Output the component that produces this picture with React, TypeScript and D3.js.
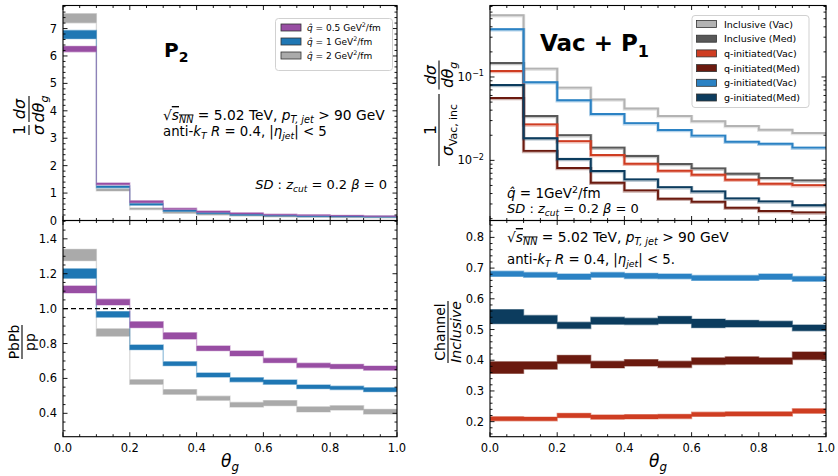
import React from "react";
import * as d3 from "d3";

const FONT = "DejaVu Sans, sans-serif";

// theta_g bin edges (10 bins of 0.1)
const binEdges = [0, 0.1, 0.2, 0.3, 0.4, 0.5, 0.6, 0.7, 0.8, 0.9, 1.0];

// P2 panel: normalised distributions, bands (lo/hi) for each qhat
const qhatValues = ["0.5", "1", "2"];
const qhatColors = ["#984ea3", "#1f77b4", "#aaaaaa"];
const distQ05Lo = [6.15, 1.30, 0.65, 0.40, 0.30, 0.24, 0.20, 0.18, 0.16, 0.15];
const distQ05Hi = [6.35, 1.37, 0.72, 0.45, 0.35, 0.28, 0.23, 0.21, 0.19, 0.17];
const distQ1Lo = [6.63, 1.19, 0.56, 0.33, 0.25, 0.19, 0.16, 0.14, 0.13, 0.12];
const distQ1Hi = [6.93, 1.26, 0.62, 0.38, 0.29, 0.23, 0.19, 0.17, 0.16, 0.15];
const distQ2Lo = [7.21, 1.08, 0.40, 0.26, 0.20, 0.16, 0.13, 0.12, 0.11, 0.10];
const distQ2Hi = [7.54, 1.15, 0.46, 0.31, 0.24, 0.19, 0.16, 0.14, 0.13, 0.12];

// PbPb / pp ratios
const ratioQ05Lo = [1.09, 1.021, 0.891, 0.826, 0.759, 0.729, 0.690, 0.662, 0.656, 0.647];
const ratioQ05Hi = [1.13, 1.054, 0.925, 0.862, 0.786, 0.757, 0.716, 0.687, 0.681, 0.671];
const ratioQ1Lo = [1.174, 0.951, 0.765, 0.673, 0.608, 0.581, 0.566, 0.541, 0.536, 0.524];
const ratioQ1Hi = [1.228, 0.983, 0.792, 0.696, 0.631, 0.604, 0.591, 0.563, 0.555, 0.547];
const ratioQ2Lo = [1.275, 0.842, 0.566, 0.509, 0.475, 0.436, 0.444, 0.408, 0.419, 0.396];
const ratioQ2Hi = [1.34, 0.884, 0.593, 0.536, 0.498, 0.462, 0.473, 0.437, 0.444, 0.423];

// Vac + P1 panel (log scale)
const channelNames = ["Inclusive (Vac)", "Inclusive (Med)", "q-initiated(Vac)", "q-initiated(Med)", "g-initiated(Vac)", "g-initiated(Med)"];
const channelColors = ["#b3b3b3", "#585858", "#cf3d22", "#6b1a0f", "#2b82c4", "#0c3c5e"];
const inclVac = [0.55, 0.126, 0.0746, 0.0536, 0.0418, 0.034, 0.0294, 0.0258, 0.0233, 0.0213];
const inclMed = [0.147, 0.034, 0.0201, 0.0142, 0.0113, 0.00904, 0.00802, 0.00692, 0.00614, 0.00575];
const qVac = [0.118, 0.027, 0.017, 0.0116, 0.0091, 0.0075, 0.00673, 0.00586, 0.00525, 0.00505];
const qMed = [0.056, 0.013, 0.0081, 0.0054, 0.00437, 0.00347, 0.00319, 0.0027, 0.00247, 0.00238];
const gVac = [0.374, 0.0863, 0.0525, 0.036, 0.028, 0.0231, 0.0198, 0.0167, 0.0158, 0.0142];
const gMed = [0.080, 0.0184, 0.0104, 0.00745, 0.00591, 0.00478, 0.00425, 0.0035, 0.00322, 0.0029];

// Channel / Inclusive fractions
const fracGVacLo = [0.673, 0.670, 0.663, 0.670, 0.666, 0.665, 0.660, 0.660, 0.663, 0.657];
const fracGVacHi = [0.690, 0.686, 0.681, 0.686, 0.683, 0.681, 0.676, 0.676, 0.681, 0.673];
const fracGMedLo = [0.519, 0.519, 0.503, 0.517, 0.516, 0.519, 0.506, 0.508, 0.508, 0.496];
const fracGMedHi = [0.565, 0.546, 0.524, 0.540, 0.537, 0.543, 0.534, 0.530, 0.527, 0.515];
const fracQMedLo = [0.357, 0.371, 0.389, 0.375, 0.381, 0.376, 0.386, 0.387, 0.387, 0.402];
const fracQMedHi = [0.395, 0.395, 0.416, 0.397, 0.402, 0.397, 0.408, 0.411, 0.408, 0.427];
const fracQVacLo = [0.203, 0.203, 0.213, 0.208, 0.209, 0.210, 0.217, 0.218, 0.218, 0.227];
const fracQVacHi = [0.216, 0.215, 0.227, 0.222, 0.223, 0.224, 0.231, 0.232, 0.232, 0.242];

// ticks
const xTickValues = [0, 0.2, 0.4, 0.6, 0.8, 1.0];
const xTickLabels = ["0.0", "0.2", "0.4", "0.6", "0.8", "1.0"];
const distTickValues = [0, 1, 2, 3, 4, 5, 6, 7];
const ratioTickValues = [0.4, 0.6, 0.8, 1.0, 1.2, 1.4];
const ratioTickLabels = ["0.4", "0.6", "0.8", "1.0", "1.2", "1.4"];
const logTickValues = [0.01, 0.1];
const logTickExps = ["−2", "−1"];
const fracTickValues = [0.2, 0.3, 0.4, 0.5, 0.6, 0.7, 0.8];
const fracTickLabels = ["0.2", "0.3", "0.4", "0.5", "0.6", "0.7", "0.8"];

type Seg = { t: string; it?: boolean; sub?: boolean; sup?: boolean; ov?: boolean };

function MText({ x, y, size, segs, anchor = "start", weight }: { x: number; y: number; size: number; segs: Seg[]; anchor?: string; weight?: string }) {
  let cur = 0;
  return (
    <text x={x} y={y} fontSize={size} fontFamily={FONT} textAnchor={anchor} fontWeight={weight} fill="#000">
      {segs.map((s, i) => {
        const target = s.sub ? size * 0.25 : s.sup ? -size * 0.4 : 0;
        const dy = target - cur;
        cur = target;
        return (
          <tspan key={i} dy={dy} fontSize={s.sub || s.sup ? size * 0.7 : size} fontStyle={s.it ? "italic" : "normal"} style={s.ov ? { textDecoration: "overline" } : undefined}>
            {s.t}
          </tspan>
        );
      })}
    </text>
  );
}

function Frac({ cx, w, num, den, size }: { cx: number; w: number; num: Seg[]; den: Seg[]; size: number }) {
  return (
    <g>
      <MText x={cx} y={-size * 0.22} size={size} segs={num} anchor="middle" />
      <line x1={cx - w / 2} x2={cx + w / 2} y1={0} y2={0} stroke="#000" strokeWidth={1.1} />
      <MText x={cx} y={size * 0.92} size={size} segs={den} anchor="middle" />
    </g>
  );
}

function minorTicks(lo: number, hi: number, step: number, majors: number[]) {
  return d3.range(lo, hi + step / 2, step).filter((v) => !majors.some((m) => Math.abs(m - v) < 1e-9));
}

function Frame({ x, y, yMajor, yMinor, clipId }: { x: any; y: any; yMajor: number[]; yMinor: number[]; clipId: string }) {
  const [x0, x1] = x.range();
  const [yb, yt] = y.range();
  const xMinor = minorTicks(0, 1, 0.05, xTickValues);
  const maj = 4.5, mnr = 2.5;
  const segs: JSX.Element[] = [];
  xTickValues.forEach((v, i) => {
    segs.push(<line key={"xb" + i} x1={x(v)} x2={x(v)} y1={yb} y2={yb - maj} />);
    segs.push(<line key={"xt" + i} x1={x(v)} x2={x(v)} y1={yt} y2={yt + maj} />);
  });
  xMinor.forEach((v, i) => {
    segs.push(<line key={"xbm" + i} x1={x(v)} x2={x(v)} y1={yb} y2={yb - mnr} />);
    segs.push(<line key={"xtm" + i} x1={x(v)} x2={x(v)} y1={yt} y2={yt + mnr} />);
  });
  yMajor.forEach((v, i) => {
    segs.push(<line key={"yl" + i} x1={x0} x2={x0 + maj} y1={y(v)} y2={y(v)} />);
    segs.push(<line key={"yr" + i} x1={x1} x2={x1 - maj} y1={y(v)} y2={y(v)} />);
  });
  yMinor.forEach((v, i) => {
    segs.push(<line key={"ylm" + i} x1={x0} x2={x0 + mnr} y1={y(v)} y2={y(v)} />);
    segs.push(<line key={"yrm" + i} x1={x1} x2={x1 - mnr} y1={y(v)} y2={y(v)} />);
  });
  return (
    <g>
      <clipPath id={clipId}>
        <rect x={x0} y={yt} width={x1 - x0} height={yb - yt} />
      </clipPath>
      <g stroke="#000" strokeWidth={0.9}>{segs}</g>
      <rect x={x0} y={yt} width={x1 - x0} height={yb - yt} fill="none" stroke="#000" strokeWidth={1.1} />
    </g>
  );
}

const ext = (a: number[]) => [...a, a[a.length - 1]];

function Band({ x, y, lo, hi, color, clipId }: { x: any; y: any; lo: number[]; hi: number[]; color: string; clipId: string }) {
  const l = ext(lo), h = ext(hi);
  const area = d3
    .area<number>()
    .x((d) => x(d))
    .y0((_, i) => y(l[i]))
    .y1((_, i) => y(h[i]))
    .curve(d3.curveStepAfter);
  return <path d={area(binEdges) || ""} fill={color} stroke={color} strokeOpacity={0.45} strokeWidth={1.3} clipPath={`url(#${clipId})`} />;
}

function StepLine({ x, y, vals, color, clipId }: { x: any; y: any; vals: number[]; color: string; clipId: string }) {
  const v = ext(vals);
  const line = d3
    .line<number>()
    .x((d) => x(d))
    .y((_, i) => y(v[i]))
    .curve(d3.curveStepAfter);
  const d = line(binEdges) || "";
  return (
    <g clipPath={`url(#${clipId})`} fill="none">
      <path d={d} stroke={color} strokeOpacity={0.35} strokeWidth={3.4} transform="translate(0,0.6)" />
      <path d={d} stroke={color} strokeWidth={1.9} />
    </g>
  );
}

const sqrtLine: Seg[] = [
  { t: "√" },
  { t: "s", it: true, ov: true },
  { t: "NN", it: true, sub: true, ov: true },
  { t: " = 5.02 TeV, " },
  { t: "p", it: true },
  { t: "T, jet", it: true, sub: true },
  { t: " > 90 GeV" },
];

const antiLine = (tail: string): Seg[] => [
  { t: "anti-" },
  { t: "k", it: true },
  { t: "T", it: true, sub: true },
  { t: " R", it: true },
  { t: " = 0.4, |" },
  { t: "η", it: true },
  { t: "jet", it: true, sub: true },
  { t: "| < " + tail },
];

const sdLine: Seg[] = [
  { t: "SD", it: true },
  { t: " : " },
  { t: "z", it: true },
  { t: "cut", it: true, sub: true },
  { t: " = 0.2 " },
  { t: "β", it: true },
  { t: " = 0" },
];

export default function App() {
  const LX = [63, 397];
  const RX = [490, 826];
  const yTop = 5.5, yMid = 220.5, yBot = 436.7;

  const xL = d3.scaleLinear().domain([0, 1]).range(LX);
  const xR = d3.scaleLinear().domain([0, 1]).range(RX);
  const yDist = d3.scaleLinear().domain([0, 7.84]).range([yMid, yTop]);
  const yRatio = d3.scaleLinear().domain([0.266, 1.505]).range([yBot, yMid]);
  const yLog = d3.scaleLog().domain([0.0019, 0.72]).range([yMid, yTop]);
  const yFrac = d3.scaleLinear().domain([0.151, 0.855]).range([yBot, yMid]);

  const distLo = [distQ05Lo, distQ1Lo, distQ2Lo];
  const distHi = [distQ05Hi, distQ1Hi, distQ2Hi];
  const ratioLo = [ratioQ05Lo, ratioQ1Lo, ratioQ2Lo];
  const ratioHi = [ratioQ05Hi, ratioQ1Hi, ratioQ2Hi];
  const channels = [inclVac, inclMed, qVac, qMed, gVac, gMed];

  const logMinor: number[] = [];
  [-3, -2, -1].forEach((e) => d3.range(2, 10).forEach((m) => {
    const v = m * Math.pow(10, e);
    if (v > 0.0019 && v < 0.72) logMinor.push(v);
  }));

  const tickFont = 11.5;

  return (
    <svg width={838} height={476} style={{ display: "block", position: "absolute", left: 0, top: 0 }} fontFamily={FONT}>
      <rect width={838} height={476} fill="#fff" />

      {/* ---- top-left: P2 distributions ---- */}
      {[2, 1, 0].map((k) => (
        <Band key={"d" + k} x={xL} y={yDist} lo={distLo[k]} hi={distHi[k]} color={qhatColors[k]} clipId="c1" />
      ))}
      <Frame x={xL} y={yDist} yMajor={distTickValues} yMinor={minorTicks(0, 7.8, 0.2, distTickValues)} clipId="c1" />
      {distTickValues.map((v) => (
        <text key={"dt" + v} x={LX[0] - 6} y={yDist(v) + 4} fontSize={tickFont} textAnchor="end">{v}</text>
      ))}
      <MText x={164} y={57} size={20} weight="bold" segs={[{ t: "P" }, { t: "2", sub: true }]} />
      <MText x={163} y={120} size={13.8} segs={sqrtLine} />
      <MText x={163} y={136} size={13.3} segs={antiLine("5")} />
      <MText x={387} y={189} size={13} segs={sdLine} anchor="end" />

      {/* legend left */}
      <rect x={275.5} y={18.5} width={117} height={52} rx={3} fill="#fff" fillOpacity={0.8} stroke="#cccccc" strokeWidth={0.9} />
      {qhatValues.map((q, i) => (
        <g key={"lg" + i}>
          <rect x={281} y={24 + i * 14} width={20} height={7} fill={qhatColors[i]} stroke="#333" strokeWidth={0.8} />
          <MText x={307} y={31 + i * 14} size={9} segs={[{ t: "q̂", it: true }, { t: " = " + q + " GeV" }, { t: "2", sup: true }, { t: "/fm" }]} />
        </g>
      ))}

      {/* ---- bottom-left: PbPb/pp ---- */}
      {[2, 1, 0].map((k) => (
        <Band key={"r" + k} x={xL} y={yRatio} lo={ratioLo[k]} hi={ratioHi[k]} color={qhatColors[k]} clipId="c2" />
      ))}
      <line x1={LX[0]} x2={LX[1]} y1={yRatio(1)} y2={yRatio(1)} stroke="#000" strokeWidth={1.1} strokeDasharray="5,3" />
      <Frame x={xL} y={yRatio} yMajor={ratioTickValues} yMinor={minorTicks(0.3, 1.5, 0.05, ratioTickValues)} clipId="c2" />
      {ratioTickValues.map((v, i) => (
        <text key={"rt" + i} x={LX[0] - 6} y={yRatio(v) + 4} fontSize={tickFont} textAnchor="end">{ratioTickLabels[i]}</text>
      ))}
      {xTickValues.map((v, i) => (
        <text key={"xl" + i} x={xL(v)} y={yBot + 15} fontSize={tickFont} textAnchor="middle">{xTickLabels[i]}</text>
      ))}
      <MText x={(LX[0] + LX[1]) / 2} y={467} size={17} anchor="middle" segs={[{ t: "θ", it: true }, { t: "g", it: true, sub: true }]} />

      {/* ---- top-right: Vac + P1 ---- */}
      {channels.map((c, k) => (
        <StepLine key={"ch" + k} x={xR} y={yLog} vals={c} color={channelColors[k]} clipId="c3" />
      ))}
      <Frame x={xR} y={yLog} yMajor={logTickValues} yMinor={logMinor} clipId="c3" />
      {logTickValues.map((v, i) => (
        <MText key={"lt" + i} x={RX[0] - 6} y={yLog(v) + 4} size={tickFont} anchor="end" segs={[{ t: "10" }, { t: logTickExps[i], sup: true }]} />
      ))}
      <MText x={540} y={51} size={23} weight="bold" segs={[{ t: "Vac + P" }, { t: "1", sub: true }]} />
      <MText x={507} y={198} size={13.5} segs={[{ t: "q̂", it: true }, { t: " = 1GeV" }, { t: "2", sup: true }, { t: "/fm" }]} />
      <MText x={507} y={213} size={13} segs={sdLine} />

      {/* legend right */}
      <rect x={692} y={15.5} width={117} height={92} rx={3} fill="#fff" fillOpacity={0.8} stroke="#cccccc" strokeWidth={0.9} />
      {channelNames.map((n, i) => (
        <g key={"lr" + i}>
          <rect x={696.5} y={20.5 + i * 14.7} width={20} height={7} fill={channelColors[i]} stroke="#333" strokeWidth={0.8} />
          <text x={724} y={27.5 + i * 14.7} fontSize={9.5}>{n}</text>
        </g>
      ))}

      {/* ---- bottom-right: Channel / Inclusive ---- */}
      <Band x={xR} y={yFrac} lo={fracGVacLo} hi={fracGVacHi} color={channelColors[4]} clipId="c4" />
      <Band x={xR} y={yFrac} lo={fracGMedLo} hi={fracGMedHi} color={channelColors[5]} clipId="c4" />
      <Band x={xR} y={yFrac} lo={fracQMedLo} hi={fracQMedHi} color={channelColors[3]} clipId="c4" />
      <Band x={xR} y={yFrac} lo={fracQVacLo} hi={fracQVacHi} color={channelColors[2]} clipId="c4" />
      <Frame x={xR} y={yFrac} yMajor={fracTickValues} yMinor={minorTicks(0.16, 0.85, 0.02, fracTickValues)} clipId="c4" />
      {fracTickValues.map((v, i) => (
        <text key={"ft" + i} x={RX[0] - 6} y={yFrac(v) + 4} fontSize={tickFont} textAnchor="end">{fracTickLabels[i]}</text>
      ))}
      {xTickValues.map((v, i) => (
        <text key={"xr" + i} x={xR(v)} y={yBot + 15} fontSize={tickFont} textAnchor="middle">{xTickLabels[i]}</text>
      ))}
      <MText x={(RX[0] + RX[1]) / 2} y={467} size={17} anchor="middle" segs={[{ t: "θ", it: true }, { t: "g", it: true, sub: true }]} />
      <MText x={507} y={242} size={13.8} segs={sqrtLine} />
      <MText x={507} y={264} size={13.3} segs={antiLine("5.")} />

      {/* ---- y-axis labels ---- */}
      <g transform="translate(29,117) rotate(-90)">
        <Frac cx={-13} w={10} size={16} num={[{ t: "1" }]} den={[{ t: "σ", it: true }]} />
        <Frac cx={8} w={26} size={16} num={[{ t: "dσ", it: true }]} den={[{ t: "dθ", it: true }, { t: "g", it: true, sub: true }]} />
      </g>
      <g transform="translate(22,342) rotate(-90)">
        <Frac cx={0} w={34} size={14} num={[{ t: "PbPb" }]} den={[{ t: "pp" }]} />
      </g>
      <g transform="translate(439,112) rotate(-90)">
        <Frac cx={-18} w={72} size={15.5} num={[{ t: "1" }]} den={[{ t: "σ", it: true }, { t: "Vac, inc", sub: true }]} />
        <Frac cx={37} w={29} size={15.5} num={[{ t: "dσ", it: true }]} den={[{ t: "dθ", it: true }, { t: "g", it: true, sub: true }]} />
      </g>
      <g transform="translate(448,332) rotate(-90)">
        <Frac cx={0} w={62} size={14} num={[{ t: "Channel" }]} den={[{ t: "Inclusive", it: true }]} />
      </g>
    </svg>
  );
}
